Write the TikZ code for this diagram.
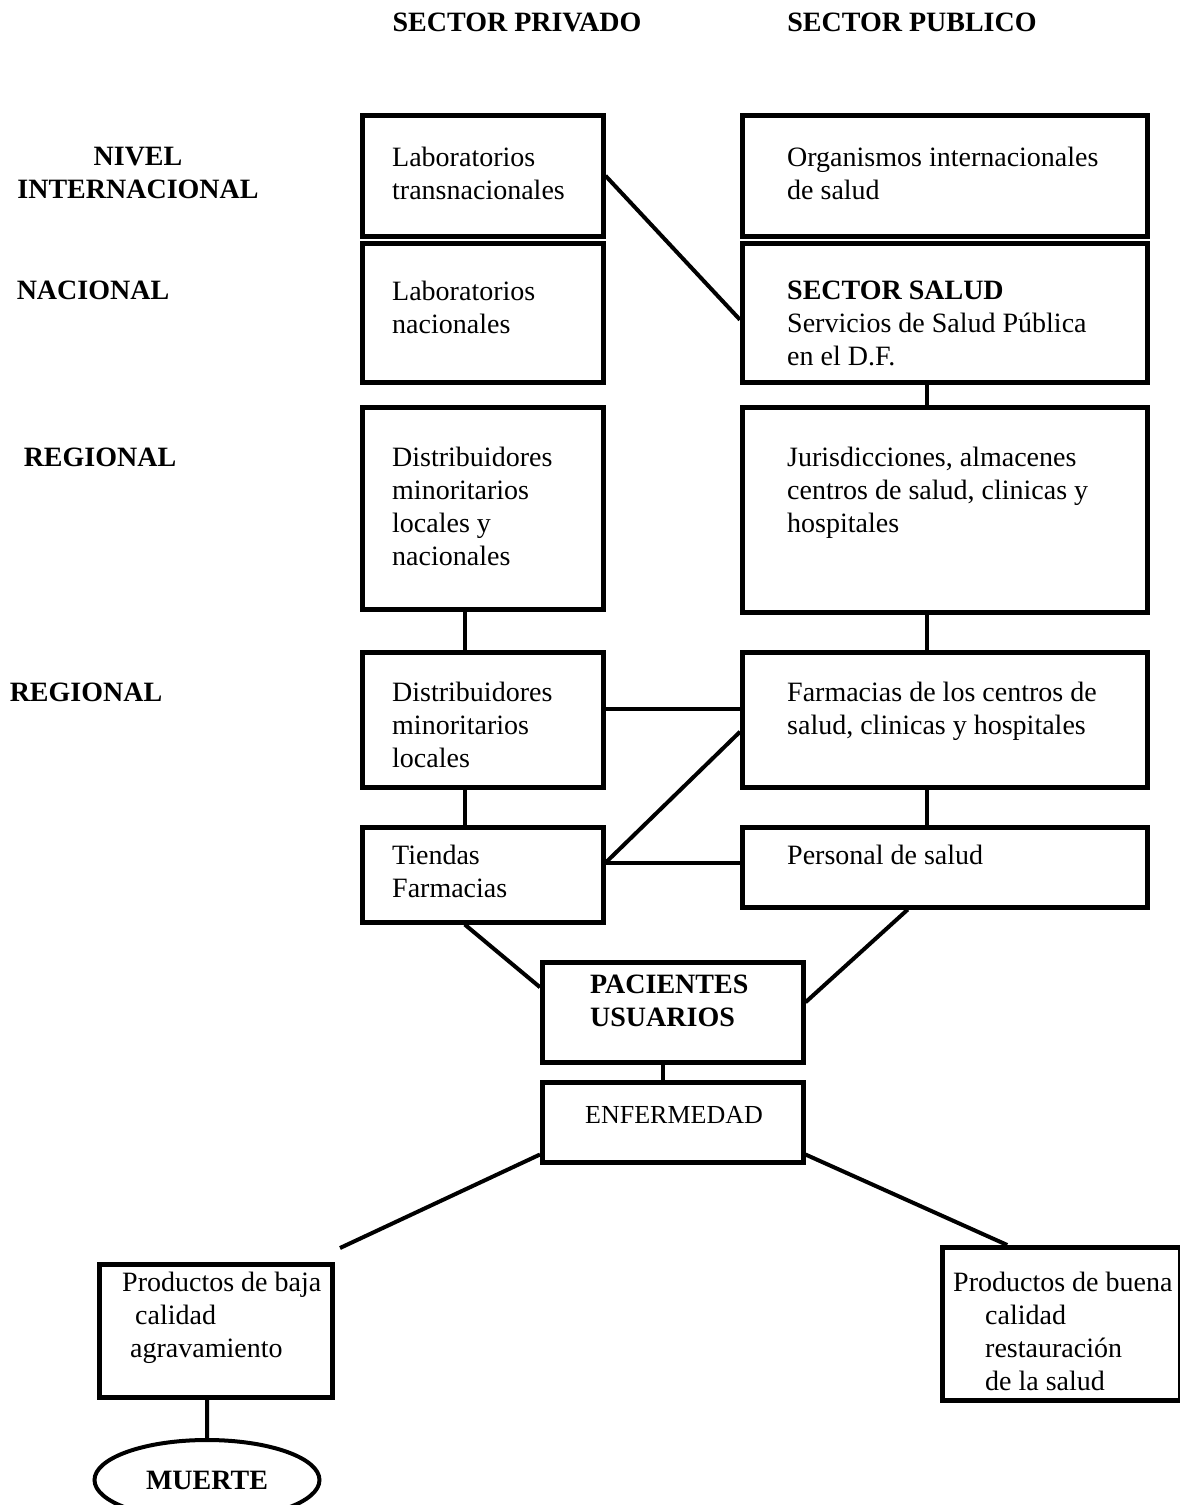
\documentclass[tikz,border=0pt]{standalone}
\usepackage{fontspec}
\setmainfont{Liberation Serif}
\usetikzlibrary{shapes.geometric}

\begin{document}
\begin{tikzpicture}[x=1pt,y=-1pt,
    box/.style={draw, line width=4.5pt, anchor=north west, inner sep=0pt},
    txt/.style={anchor=north west, align=left, inner sep=0pt, font=\fontsize{28}{33}\selectfont},
    hdr/.style={align=center, inner sep=0pt, font=\fontsize{28}{33}\selectfont\bfseries},
    link/.style={line width=4pt}]
    \useasboundingbox (0,0) rectangle (1180,1505);

    % headers and levels
    \node[hdr] (privado) at (517,22) {SECTOR PRIVADO};
    \node[hdr] (publico) at (912,22) {SECTOR PUBLICO};
    \node[hdr] (internac) at (138,173) {NIVEL\\INTERNACIONAL};
    \node[hdr] (nacional) at (93,290) {NACIONAL};
    \node[hdr] (regional) at (100,457) {REGIONAL};
    \node[hdr] (regional2) at (86,692) {REGIONAL};

    % boxes
    \node[box, minimum width=241pt, minimum height=121pt] (labtrans) at (360,113) {};
    \node[box, minimum width=405pt, minimum height=121pt] (organismos) at (740,113) {};
    \node[box, minimum width=241pt, minimum height=139pt] (labnac) at (360,241) {};
    \node[box, minimum width=405pt, minimum height=139pt] (salud) at (740,241) {};
    \node[box, minimum width=241pt, minimum height=202pt] (distnac) at (360,405) {};
    \node[box, minimum width=405pt, minimum height=205pt] (juris) at (740,405) {};
    \node[box, minimum width=241pt, minimum height=135pt] (distloc) at (360,650) {};
    \node[box, minimum width=405pt, minimum height=135pt] (farm) at (740,650) {};
    \node[box, minimum width=241pt, minimum height=95pt] (tiendas) at (360,825) {};
    \node[box, minimum width=405pt, minimum height=80pt] (personal) at (740,825) {};
    \node[box, minimum width=261pt, minimum height=100pt] (pacientes) at (540,960) {};
    \node[box, minimum width=261pt, minimum height=80pt] (enf) at (540,1080) {};
    \node[box, minimum width=233pt, minimum height=133pt] (baja) at (97,1262) {};
    \node[box, minimum width=238pt, minimum height=153pt] (buena) at (940,1245) {};
    \node[ellipse, draw, line width=4pt, minimum width=225pt, minimum height=80pt,
        font=\fontsize{28}{33}\selectfont\bfseries] (muerte) at (207,1480) {MUERTE};

    % texts
    \node[txt] (labtrans-t) at ([shift={(32,34)}]labtrans.north west) {Laboratorios\\transnacionales};
    \node[txt] (organismos-t) at ([shift={(47,34)}]organismos.north west) {Organismos internacionales\\de salud};
    \node[txt] (labnac-t) at ([shift={(32,40)}]labnac.north west) {Laboratorios\\nacionales};
    \node[txt] (salud-t) at ([shift={(47,40)}]salud.north west) {\textbf{SECTOR SALUD}\\Servicios de Salud Pública\\en el D.F.};
    \node[txt] (distnac-t) at ([shift={(32,42)}]distnac.north west) {Distribuidores\\minoritarios\\locales y\\nacionales};
    \node[txt] (juris-t) at ([shift={(47,42)}]juris.north west) {Jurisdicciones, almacenes\\centros de salud, clinicas y\\hospitales};
    \node[txt] (distloc-t) at ([shift={(32,32)}]distloc.north west) {Distribuidores\\minoritarios\\locales};
    \node[txt] (farm-t) at ([shift={(47,32)}]farm.north west) {Farmacias de los centros de\\salud, clinicas y hospitales};
    \node[txt] (tiendas-t) at ([shift={(32,20)}]tiendas.north west) {Tiendas\\Farmacias};
    \node[txt] (personal-t) at ([shift={(47,20)}]personal.north west) {Personal de salud};
    \node[txt, font=\fontsize{28}{33}\selectfont\bfseries] (pacientes-t) at ([shift={(50,15)}]pacientes.north west) {PACIENTES\\USUARIOS};
    \node[txt, font=\fontsize{26}{31}\selectfont] (enf-t) at ([shift={(45,26)}]enf.north west) {ENFERMEDAD};
    \node[txt] (baja-t) at ([shift={(25,10)}]baja.north west) {Productos de baja\\\hspace*{13pt}calidad\\\hspace*{8pt}agravamiento};
    \node[txt] (buena-t) at ([shift={(13,27)}]buena.north west) {Productos de buena\\\hspace*{32pt}calidad\\\hspace*{32pt}restauración\\\hspace*{32pt}de la salud};

    % connectors
    \draw[link] (labtrans.east) -- ([yshift=-7pt]salud.west);
    \foreach \a/\b in {salud/juris, distnac/distloc, juris/farm, distloc/tiendas, farm/personal}
        \draw[link] ([xshift=-18pt]\a.south) -- ([xshift=-18pt]\b.north);
    \draw[link] ([yshift=11pt]distloc.east) -- ([yshift=11pt]farm.west);
    \coordinate (tf) at ([yshift=12pt]tiendas.east);
    \draw[link] (tf) -- ([yshift=-12pt]farm.west);
    \draw[link] (tf) -- (tf -| personal.west);
    \draw[link] ([xshift=-18pt]tiendas.south) -- ([yshift=25pt]pacientes.west);
    \draw[link] ([xshift=-37pt]personal.south) -- ([yshift=10pt]pacientes.east);
    \draw[link] ([xshift=-10pt]pacientes.south) -- ([xshift=-10pt]enf.north);
    \coordinate (bajatip) at (340,1248);
    \draw[link] ([yshift=10pt]enf.south west) -- (bajatip);
    \draw[link] ([yshift=10pt]enf.south east) -- ([xshift=-54pt]buena.north);
    \draw[link] ([xshift=-8.5pt]baja.south) -- (muerte.north);
\end{tikzpicture}
\end{document}
